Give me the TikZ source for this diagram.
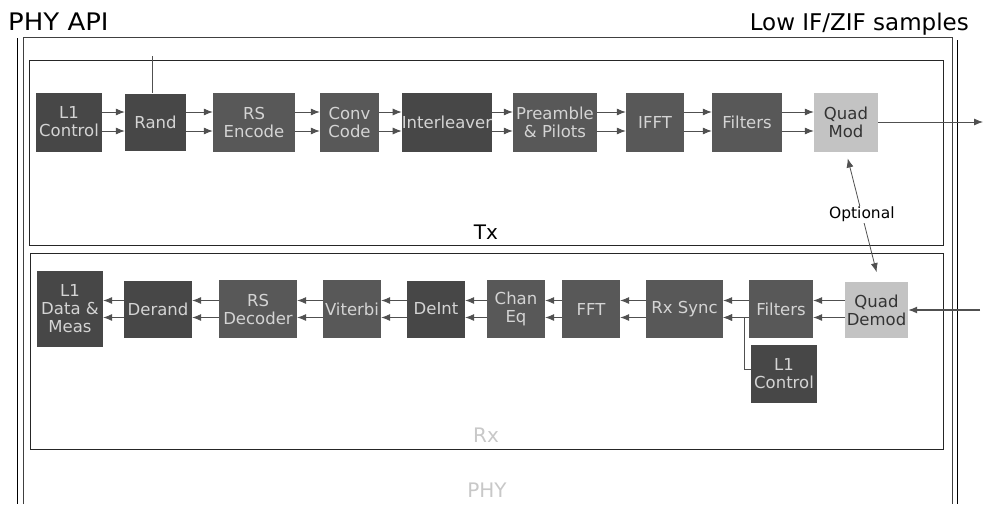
\documentclass[tikz,border=0pt]{standalone}
\usepackage{fontspec}
\setmainfont{DejaVu Sans}
\usetikzlibrary{arrows.meta}

\definecolor{blkdark}{HTML}{474747}
\definecolor{blkmid}{HTML}{585858}
\definecolor{blkquad}{HTML}{C3C3C3}
\definecolor{blktext}{HTML}{D4D4D4}
\definecolor{arrowgray}{HTML}{505050}
\definecolor{labelgray}{HTML}{C8C8C8}

\tikzset{
  blk/.style={fill=blkdark, text=blktext, inner sep=0pt, align=center,
    minimum height=59pt, font=\fontsize{16.5}{18}\selectfont},
  blkm/.style={blk, fill=blkmid},
  quad/.style={blk, fill=blkquad, text=black!80},
  flow/.style={draw=arrowgray, line width=0.8pt, -{Latex[length=9pt,width=7pt]}},
  frame/.style={draw=black!85, line width=0.9pt},
  title/.style={font=\fontsize{23}{26}\selectfont, inner sep=0pt}
}

\begin{document}
\begin{tikzpicture}[x=1pt, y=-1pt]
  \useasboundingbox (0,0) rectangle (984,504);

  % Titles
  \node[title, anchor=base west] (api) at (8,30) {\scalebox{1.13}[1.05]{PHY API}};
  \node[title, anchor=base east] (samples) at (969,30) {Low IF/ZIF samples};

  % PHY frame
  \draw[black, line width=0.6pt] (17,38) -- (17,504);
  \draw[black, line width=0.6pt] (957,40) -- (957,504);
  \draw[draw=black!75, line width=1pt] (23,504) -- (23,37) -- (952,37) -- (952,504);
  \node[font=\fontsize{20}{22}\selectfont, text=labelgray] (phy) at (487,490) {PHY};

  % Tx and Rx frames
  \draw[frame] (29,60) rectangle (943,245);
  \node[font=\fontsize{20}{22}\selectfont] (tx) at (486,232) {Tx};
  \draw[frame] (30,253) rectangle (943,449);
  \node[font=\fontsize{20}{22}\selectfont, text=labelgray] (rx) at (486,435) {Rx};

  % Tx blocks
  \node[blk, minimum width=66pt] (txctl) at (69,122) {L1\\Control};
  \node[blk, minimum width=61pt, minimum height=57pt] (rand) at (155.5,122) {Rand};
  \node[blkm, minimum width=82pt] (rsenc) at (254,122) {RS\\Encode};
  \node[blkm, minimum width=59pt] (conv) at (349.5,122) {Conv\\Code};
  \node[blk, minimum width=86pt] (intl) at (447,122) {Interleaver};
  \node[blkm, minimum width=84pt] (pream) at (555,122) {Preamble\\\& Pilots};
  \node[blkm, minimum width=58pt] (ifft) at (655,122) {IFFT};
  \node[blkm, minimum width=70pt] (txfilt) at (747,122) {Filters};
  \node[quad, minimum width=64pt] (qmod) at (846,122) {Quad\\Mod};

  % Tx chain
  \draw[flow] ([yshift=10pt]txctl.east) -- ([yshift=10pt]rand.west);
  \draw[flow] ([yshift=-9pt]txctl.east) -- ([yshift=-9pt]rand.west);
  \draw[flow] ([yshift=10pt]rand.east) -- ([yshift=10pt]rsenc.west);
  \draw[flow] ([yshift=-9pt]rand.east) -- ([yshift=-9pt]rsenc.west);
  \draw[flow] ([yshift=10pt]rsenc.east) -- ([yshift=10pt]conv.west);
  \draw[flow] ([yshift=-9pt]rsenc.east) -- ([yshift=-9pt]conv.west);
  \draw[flow] ([yshift=10pt]conv.east) -- ([yshift=10pt]intl.west);
  \draw[flow] ([yshift=-9pt]conv.east) -- ([yshift=-9pt]intl.west);
  \draw[flow] ([yshift=10pt]intl.east) -- ([yshift=10pt]pream.west);
  \draw[flow] ([yshift=-9pt]intl.east) -- ([yshift=-9pt]pream.west);
  \draw[flow] ([yshift=10pt]pream.east) -- ([yshift=10pt]ifft.west);
  \draw[flow] ([yshift=-9pt]pream.east) -- ([yshift=-9pt]ifft.west);
  \draw[flow] ([yshift=10pt]ifft.east) -- ([yshift=10pt]txfilt.west);
  \draw[flow] ([yshift=-9pt]ifft.east) -- ([yshift=-9pt]txfilt.west);
  \draw[flow] ([yshift=10pt]txfilt.east) -- ([yshift=10pt]qmod.west);
  \draw[flow] ([yshift=-9pt]txfilt.east) -- ([yshift=-9pt]qmod.west);

  % API input and Tx output
  \coordinate (apitap) at (152,56);
  \draw[arrowgray, line width=0.8pt] (apitap) -- (apitap |- rand.north);
  \coordinate (txout) at (983,122);
  \draw[flow] (qmod.east) -- (txout);

  % Rx blocks
  \node[blk, minimum width=66pt, minimum height=76pt] (l1data) at (70,309) {L1\\Data \&\\Meas};
  \node[blk, minimum width=68pt, minimum height=57pt] (derand) at (158,309) {Derand};
  \node[blkm, minimum width=78pt, minimum height=58pt] (rsdec) at (258,309) {RS\\Decoder};
  \node[blkm, minimum width=58pt, minimum height=58pt] (viterbi) at (352,309) {Viterbi};
  \node[blk, minimum width=58pt, minimum height=57pt] (deint) at (436,309) {DeInt};
  \node[blkm, minimum width=58pt, minimum height=58pt] (chaneq) at (516,309) {Chan\\Eq};
  \node[blkm, minimum width=58pt, minimum height=58pt] (fft) at (591,309) {FFT};
  \node[blkm, minimum width=77pt, minimum height=58pt] (rxsync) at (684.5,309) {Rx Sync};
  \node[blkm, minimum width=64pt, minimum height=58pt] (rxfilt) at (781,309) {Filters};
  \node[quad, minimum width=63pt, minimum height=56pt] (qdemod) at (876.5,310) {Quad\\Demod};
  \node[blk, minimum width=66pt, minimum height=58pt] (rxctl) at (784,374) {L1\\Control};

  % Rx chain
  \draw[flow] ([yshift=8.5pt]qdemod.west |- rxfilt.east) -- ([yshift=8.5pt]rxfilt.east);
  \draw[flow] ([yshift=-8.5pt]qdemod.west |- rxfilt.east) -- ([yshift=-8.5pt]rxfilt.east);
  \draw[flow] ([yshift=8.5pt]rxfilt.west) -- ([yshift=8.5pt]rxsync.east);
  \draw[flow] ([yshift=-8.5pt]rxfilt.west) -- ([yshift=-8.5pt]rxsync.east);
  \draw[flow] ([yshift=8.5pt]rxsync.west) -- ([yshift=8.5pt]fft.east);
  \draw[flow] ([yshift=-8.5pt]rxsync.west) -- ([yshift=-8.5pt]fft.east);
  \draw[flow] ([yshift=8.5pt]fft.west) -- ([yshift=8.5pt]chaneq.east);
  \draw[flow] ([yshift=-8.5pt]fft.west) -- ([yshift=-8.5pt]chaneq.east);
  \draw[flow] ([yshift=8.5pt]chaneq.west) -- ([yshift=8.5pt]deint.east);
  \draw[flow] ([yshift=-8.5pt]chaneq.west) -- ([yshift=-8.5pt]deint.east);
  \draw[flow] ([yshift=8.5pt]deint.west) -- ([yshift=8.5pt]viterbi.east);
  \draw[flow] ([yshift=-8.5pt]deint.west) -- ([yshift=-8.5pt]viterbi.east);
  \draw[flow] ([yshift=8.5pt]viterbi.west) -- ([yshift=8.5pt]rsdec.east);
  \draw[flow] ([yshift=-8.5pt]viterbi.west) -- ([yshift=-8.5pt]rsdec.east);
  \draw[flow] ([yshift=8.5pt]rsdec.west) -- ([yshift=8.5pt]derand.east);
  \draw[flow] ([yshift=-8.5pt]rsdec.west) -- ([yshift=-8.5pt]derand.east);
  \draw[flow] ([yshift=8.5pt]derand.west) -- ([yshift=8.5pt]l1data.east);
  \draw[flow] ([yshift=-8.5pt]derand.west) -- ([yshift=-8.5pt]l1data.east);

  % L1 control into Rx Sync
  \draw[flow] ([yshift=5pt]rxctl.west) -| ([xshift=-4pt,yshift=-8.5pt]rxfilt.west)
    -- ([yshift=-8.5pt]rxsync.east);

  % Rx input
  \coordinate (rxin) at (980,310);
  \draw[flow, line width=1.2pt] (rxin) -- (qdemod.east);

  % Optional loopback
  \draw[draw=arrowgray, line width=0.8pt, {Latex[length=9pt,width=7pt]}-{Latex[length=9pt,width=7pt]},
    shorten <=7pt, shorten >=10pt] (qmod.south) -- ([xshift=2.5pt]qdemod.north)
    node[pos=0.48, fill=white, inner sep=1pt, font=\fontsize{15.5}{17}\selectfont] (opt) {Optional};
\end{tikzpicture}
\end{document}
